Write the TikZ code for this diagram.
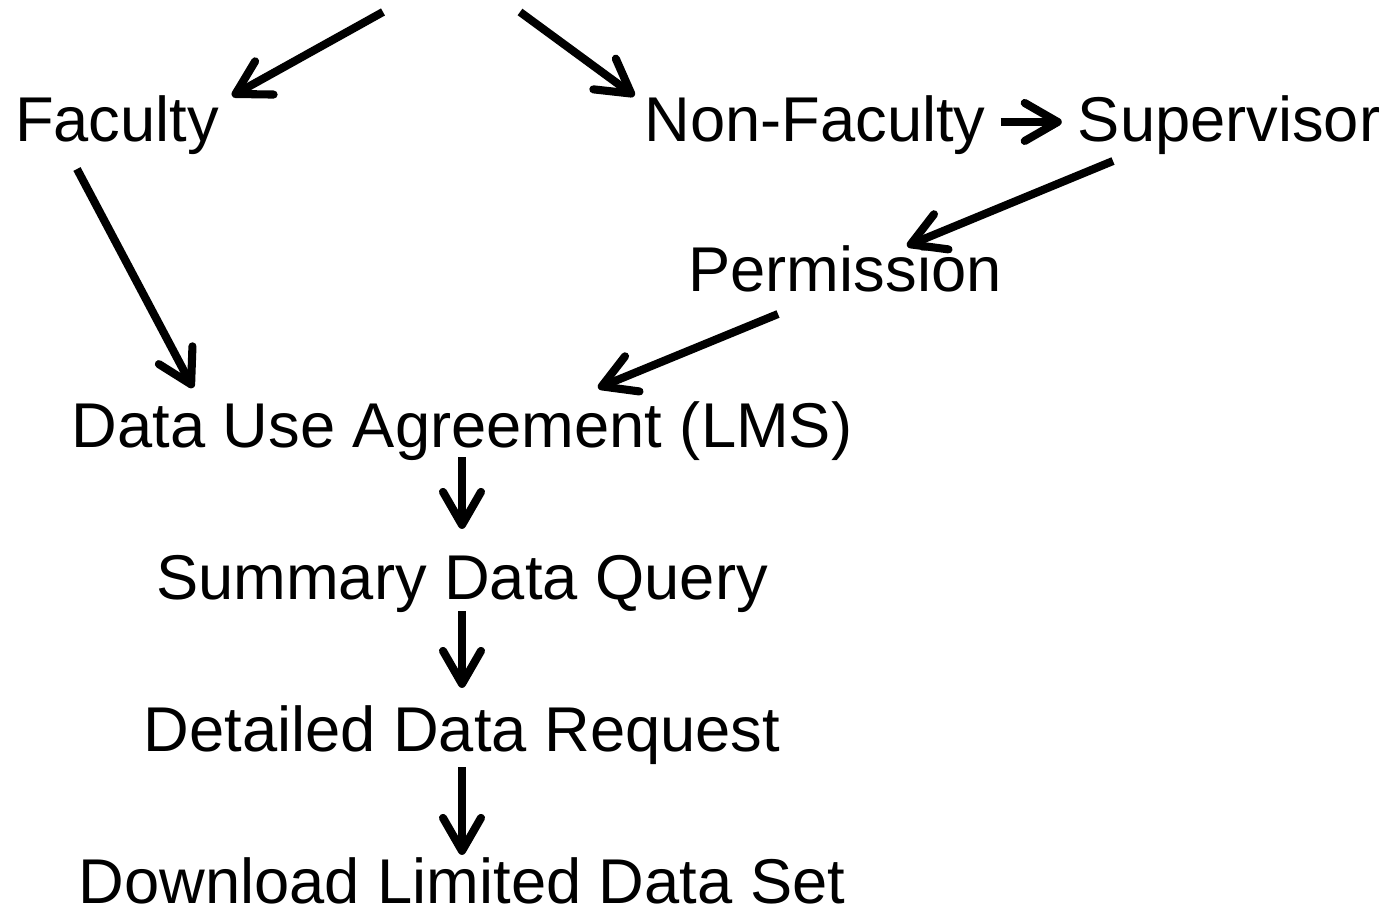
\documentclass[tikz,border=0pt]{standalone}
\usepackage{fontspec}
\setmainfont{Liberation Sans}
\usetikzlibrary{arrows.meta}
\tikzstyle{stage}=[inner sep=0pt,anchor=base,text height=0.45cm,text depth=0.13cm,font=\fontsize{18}{22}\selectfont]

\begin{document}
\begin{tikzpicture}[line width=2.3pt,>={Straight Barb[length=3.3mm,width=3.8mm,round]},->]
    \tikzstyle{stage}=[inner sep=0pt,anchor=base,text height=0.45cm,text depth=0.13cm,font=\fontsize{18}{22}\selectfont]
    \useasboundingbox (0,0) rectangle (13.99,9.13);
    \node[stage] (fac) at (1.17,7.71) {Faculty};
    \node[stage] (nonfac) at (8.15,7.71) {Non-Faculty};
    \node[stage] (sup) at (12.29,7.71) {Supervisor};
    \node[stage] (perm) at (8.45,6.21) {Permission};
    \node[stage] (dua) at (4.62,4.65) {Data Use Agreement (LMS)};
    \node[stage] (sdq) at (4.62,3.13) {Summary Data Query};
    \node[stage] (ddr) at (4.62,1.61) {Detailed Data Request};
    \node[stage,text depth=0.02cm] (dlds) at (4.62,0.09) {Download Limited Data Set};
    \coordinate (in1) at (3.83,9.01);
    \coordinate (in2) at (5.20,9.01);
    \draw (in1) -- ([shift={(0.09,-0.03)}]fac.north east);
    \draw (in2) -- ([shift={(-0.06,-0.03)}]nonfac.north west);
    \draw ([shift={(0.11,0.04)}]nonfac.east) -- ([shift={(-0.12,0.04)}]sup.west);
    \draw ([shift={(-1.16,-0.02)}]sup.south) -- ([shift={(0.62,-0.03)}]perm.north);
    \draw ([shift={(-0.40,-0.10)}]fac.south) -- ([shift={(-2.69,0.11)}]dua.north);
    \draw ([shift={(-0.67,-0.05)}]perm.south) -- ([shift={(1.36,0.11)}]dua.north);
    \draw ([yshift=0.08cm]dua.south) -- ([yshift=0.22cm]sdq.north);
    \draw ([yshift=0.06cm]sdq.south) -- ([yshift=0.15cm]ddr.north);
    \draw ([yshift=0.02cm]ddr.south) -- ([yshift=0.0cm]dlds.north);
\end{tikzpicture}
\end{document}
